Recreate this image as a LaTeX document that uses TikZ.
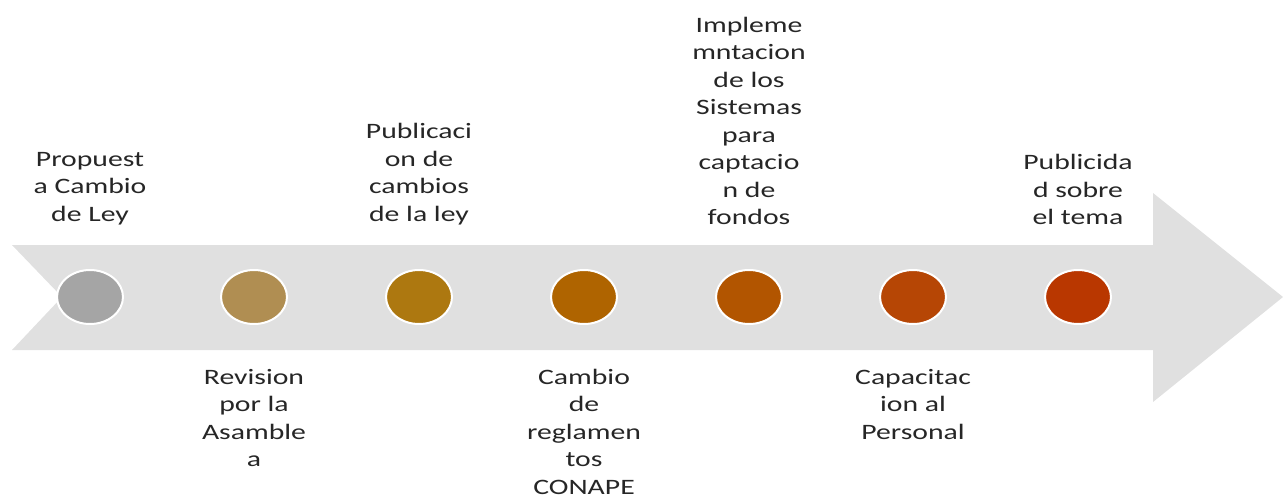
\documentclass[tikz,border=0pt]{standalone}
\usepackage{fontspec}
\setmainfont{Carlito}[FakeStretch=1.35]
\usepackage{tikz}
\usepackage{xcolor}
\usetikzlibrary{shapes.geometric, positioning}
\definecolor{band}{RGB}{224,224,224}
\definecolor{dotA}{RGB}{165,165,165}
\definecolor{dotB}{RGB}{176,142,82}
\definecolor{dotC}{RGB}{173,120,16}
\definecolor{dotD}{RGB}{175,100,0}
\definecolor{dotE}{RGB}{178,85,0}
\definecolor{dotF}{RGB}{182,70,5}
\definecolor{dotG}{RGB}{185,55,0}
\tikzstyle{dot} = [ellipse, minimum width=66pt, minimum height=54pt, draw=white, line width=2pt]
\tikzstyle{label} = [align=center, inner sep=0pt, font=\fontsize{22}{27.5}\selectfont, text=black!85]

\begin{document}
\begin{tikzpicture}[x=1pt, y=-1pt, node distance=44pt]
\useasboundingbox (0,0) rectangle (1285,496);
\fill [band] (12,245) -- (1153,245) -- (1153,193) -- (1283,297) -- (1153,402) -- (1153,350) -- (12,350) -- (62,297) -- cycle;
\node (propuesta) [dot, fill=dotA] at (90,297) {};
\node (revision) [dot, fill=dotB] at (254,297) {};
\node (publicacion) [dot, fill=dotC] at (419,297) {};
\node (reglamentos) [dot, fill=dotD] at (584,297) {};
\node (sistemas) [dot, fill=dotE] at (749,297) {};
\node (capacitacion) [dot, fill=dotF] at (913,297) {};
\node (publicidad) [dot, fill=dotG] at (1078,297) {};
\node (propuestatxt) [label, above=of propuesta] {Propuest\\a Cambio\\de Ley};
\node (revisiontxt) [label, below=of revision] {Revision\\por la\\Asamble\\a};
\node (publicaciontxt) [label, above=of publicacion] {Publicaci\\on de\\cambios\\de la ley};
\node (reglamentostxt) [label, below=of reglamentos] {Cambio\\de\\reglamen\\tos\\CONAPE};
\node (sistemastxt) [label, above=of sistemas] {Impleme\\mntacion\\de los\\Sistemas\\para\\captacio\\n de\\fondos};
\node (capacitaciontxt) [label, below=of capacitacion] {Capacitac\\ion al\\Personal};
\node (publicidadtxt) [label, above=of publicidad] {Publicida\\d sobre\\el tema};
\end{tikzpicture}
\end{document}
